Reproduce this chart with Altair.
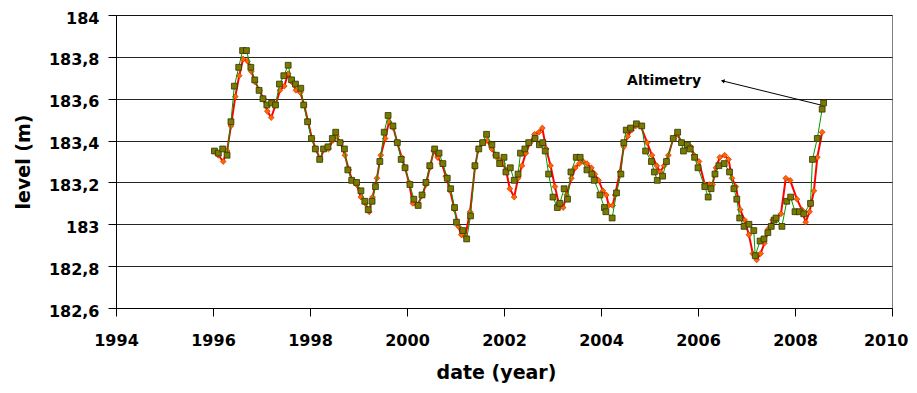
import altair as alt
import pandas as pd

# Altimetry series (green line, olive squares)
green_year = [1996.03, 1996.11, 1996.20, 1996.29, 1996.37, 1996.44, 1996.53, 1996.61, 1996.69, 1996.78,
              1996.86, 1996.95, 1997.03, 1997.11, 1997.21, 1997.29, 1997.37, 1997.46, 1997.55, 1997.62,
              1997.70, 1997.81, 1997.87, 1997.95, 1998.03, 1998.11, 1998.20, 1998.28, 1998.37, 1998.46,
              1998.53, 1998.62, 1998.71, 1998.78, 1998.86, 1998.96, 1999.05, 1999.13, 1999.20, 1999.28,
              1999.35, 1999.44, 1999.53, 1999.61, 1999.71, 1999.80, 1999.88, 1999.96, 2000.06, 2000.14,
              2000.23, 2000.31, 2000.39, 2000.47, 2000.57, 2000.66, 2000.74, 2000.83, 2000.90, 2000.98,
              2001.02, 2001.15, 2001.23, 2001.31, 2001.40, 2001.48, 2001.56, 2001.64, 2001.75, 2001.84,
              2001.91, 2002.00, 2002.04, 2002.13, 2002.21, 2002.29, 2002.34, 2002.43, 2002.51, 2002.64,
              2002.73, 2002.80, 2002.85, 2002.92, 2003.01, 2003.10, 2003.15, 2003.24, 2003.31, 2003.38,
              2003.49, 2003.57, 2003.71, 2003.81, 2003.86, 2003.98, 2004.07, 2004.10, 2004.23, 2004.32,
              2004.41, 2004.47, 2004.52, 2004.61, 2004.73, 2004.84, 2004.92, 2005.04, 2005.10, 2005.16,
              2005.27, 2005.35, 2005.49, 2005.58, 2005.66, 2005.70, 2005.78, 2005.84, 2005.93, 2006.00,
              2006.14, 2006.21, 2006.27, 2006.35, 2006.43, 2006.54, 2006.65, 2006.74, 2006.80, 2006.86,
              2006.95, 2007.05, 2007.15, 2007.18, 2007.28, 2007.36, 2007.44, 2007.51, 2007.57, 2007.61,
              2007.73, 2007.83, 2007.91, 2008.00, 2008.09, 2008.18, 2008.32, 2008.36, 2008.46, 2008.56,
              2008.59]
green_level = [183.35, 183.34, 183.36, 183.33, 183.49, 183.66, 183.75, 183.83, 183.83, 183.75,
               183.69, 183.64, 183.60, 183.57, 183.58, 183.57, 183.67, 183.71, 183.76, 183.69,
               183.67, 183.65, 183.57, 183.49, 183.41, 183.36, 183.31, 183.36, 183.37, 183.41,
               183.44, 183.39, 183.36, 183.26, 183.21, 183.20, 183.16, 183.11, 183.07, 183.11,
               183.18, 183.30, 183.44, 183.52, 183.47, 183.39, 183.31, 183.27, 183.19, 183.12,
               183.09, 183.14, 183.20, 183.28, 183.36, 183.34, 183.29, 183.22, 183.17, 183.08,
               183.01, 182.97, 182.93, 183.04, 183.28, 183.36, 183.39, 183.43, 183.38, 183.33,
               183.29, 183.32, 183.25, 183.27, 183.21, 183.24, 183.34, 183.36, 183.39, 183.41,
               183.38, 183.39, 183.35, 183.24, 183.13, 183.08, 183.10, 183.17, 183.12, 183.25,
               183.32, 183.32, 183.26, 183.24, 183.21, 183.14, 183.08, 183.06, 183.03, 183.15,
               183.24, 183.39, 183.45, 183.46, 183.48, 183.47, 183.35, 183.30, 183.25, 183.21,
               183.23, 183.30, 183.41, 183.44, 183.39, 183.35, 183.38, 183.36, 183.32, 183.27,
               183.18, 183.13, 183.17, 183.24, 183.28, 183.29, 183.25, 183.17, 183.12, 183.03,
               182.99, 183.00, 182.97, 182.85, 182.92, 182.93, 182.96, 182.99, 183.02, 183.03,
               182.99, 183.11, 183.13, 183.06, 183.06, 183.05, 183.10, 183.31, 183.41, 183.55,
               183.58]

# Gauge series (red line, orange diamonds)
red_year = [1996.03, 1996.11, 1996.21, 1996.29, 1996.37, 1996.46, 1996.54, 1996.62, 1996.71, 1996.79,
            1996.87, 1996.96, 1997.04, 1997.12, 1997.20, 1997.29, 1997.38, 1997.47, 1997.55, 1997.63,
            1997.71, 1997.80, 1997.88, 1997.96, 1998.04, 1998.12, 1998.21, 1998.29, 1998.38, 1998.47,
            1998.55, 1998.63, 1998.72, 1998.80, 1998.87, 1998.96, 1999.05, 1999.14, 1999.22, 1999.29,
            1999.38, 1999.46, 1999.55, 1999.63, 1999.72, 1999.80, 1999.89, 1999.96, 2000.04, 2000.12,
            2000.21, 2000.32, 2000.39, 2000.47, 2000.55, 2000.63, 2000.72, 2000.80, 2000.89, 2000.98,
            2001.06, 2001.12, 2001.20, 2001.30, 2001.40, 2001.47, 2001.56, 2001.65, 2001.75, 2001.82,
            2001.89, 2001.97, 2002.04, 2002.12, 2002.21, 2002.29, 2002.37, 2002.45, 2002.54, 2002.63,
            2002.72, 2002.79, 2002.87, 2002.96, 2003.05, 2003.13, 2003.22, 2003.29, 2003.39, 2003.47,
            2003.55, 2003.63, 2003.71, 2003.80, 2003.87, 2003.95, 2004.04, 2004.11, 2004.16, 2004.24,
            2004.29, 2004.39, 2004.47, 2004.55, 2004.63, 2004.72, 2004.82, 2004.95, 2005.05, 2005.15,
            2005.22, 2005.30, 2005.39, 2005.49, 2005.57, 2005.67, 2005.77, 2005.85, 2005.92, 2006.02,
            2006.14, 2006.23, 2006.30, 2006.37, 2006.45, 2006.55, 2006.63, 2006.70, 2006.78, 2006.87,
            2006.96, 2007.05, 2007.13, 2007.21, 2007.29, 2007.37, 2007.46, 2007.54, 2007.62, 2007.71,
            2007.81, 2007.90, 2008.04, 2008.14, 2008.22, 2008.30, 2008.39, 2008.46, 2008.56]
red_level = [183.35, 183.33, 183.30, 183.35, 183.47, 183.61, 183.71, 183.79, 183.78, 183.73,
             183.68, 183.64, 183.60, 183.54, 183.51, 183.57, 183.64, 183.66, 183.72, 183.68,
             183.64, 183.63, 183.57, 183.49, 183.41, 183.36, 183.31, 183.36, 183.36, 183.40,
             183.42, 183.39, 183.33, 183.26, 183.21, 183.19, 183.13, 183.10, 183.06, 183.13,
             183.22, 183.33, 183.41, 183.49, 183.46, 183.39, 183.32, 183.27, 183.20, 183.10,
             183.09, 183.14, 183.19, 183.27, 183.35, 183.32, 183.29, 183.23, 183.16, 183.07,
             182.99, 182.95, 182.94, 183.06, 183.27, 183.36, 183.39, 183.40, 183.36, 183.33,
             183.31, 183.29, 183.26, 183.17, 183.13, 183.22, 183.28, 183.34, 183.39, 183.43,
             183.44, 183.46, 183.36, 183.28, 183.18, 183.10, 183.08, 183.14, 183.22, 183.27,
             183.29, 183.30, 183.29, 183.27, 183.24, 183.21, 183.16, 183.14, 183.09, 183.09,
             183.14, 183.25, 183.37, 183.42, 183.45, 183.47, 183.47, 183.39, 183.33, 183.28,
             183.25, 183.28, 183.33, 183.41, 183.43, 183.39, 183.38, 183.37, 183.33, 183.30,
             183.19, 183.19, 183.19, 183.27, 183.32, 183.33, 183.31, 183.22, 183.18, 183.07,
             183.02, 182.95, 182.86, 182.83, 182.86, 182.91, 182.98, 183.02, 183.03, 183.05,
             183.22, 183.21, 183.12, 183.07, 183.01, 183.06, 183.16, 183.32, 183.44]

x_ticks = [1994, 1996, 1998, 2000, 2002, 2004, 2006, 2008, 2010]
y_ticks = [182.6, 182.8, 183.0, 183.2, 183.4, 183.6, 183.8, 184.0]
x_title = "date (year)"
y_title = "level (m)"

note_text = ["Altimetry"]
note_year = [2005.30]
note_level = [183.685]
arrow_from_year = [2008.53]
arrow_from_level = [183.57]
arrow_to_year = [2006.51]
arrow_to_level = [183.685]

FONT = "DejaVu Sans"

green = pd.DataFrame({"year": green_year, "level": green_level})
red = pd.DataFrame({"year": red_year, "level": red_level})
note = pd.DataFrame({"year": note_year, "level": note_level, "text": note_text})
arrow = pd.DataFrame({"year": arrow_from_year, "level": arrow_from_level,
                      "year2": arrow_to_year, "level2": arrow_to_level})
head = pd.DataFrame({"year": arrow_to_year, "level": arrow_to_level})

xs = alt.Scale(domain=[1994, 2010], nice=False, zero=False)
ys = alt.Scale(domain=[182.6, 184], nice=False, zero=False)

label_expr = ("abs(datum.value - round(datum.value)) < 0.001 ? format(datum.value, 'd') : "
              "replace(format(datum.value, '.1f'), '.', ',')")

last_x = "datum.value == 2010"

x_axis = alt.Axis(values=x_ticks, format="d", title=x_title, grid=False,
                  domainColor="#000000", domainWidth=1, tickColor="#000000", tickSize=8, tickWidth=1,
                  labelFont=FONT, labelFontWeight="bold", labelFontSize=16, labelColor="#000000",
                  labelPadding=16, labelFlush=False, labelOverlap=False,
                  labelAlign={"condition": {"test": last_x, "value": "right"}, "value": "center"},
                  labelOffset={"condition": {"test": last_x, "value": 16}, "value": 0},
                  titleFont=FONT, titleFontWeight="bold", titleFontSize=19, titleColor="#000000",
                  titleX=380, titleY=64, titleAlign="center", titleBaseline="middle")
y_axis = alt.Axis(values=y_ticks, labelExpr=label_expr, title=y_title, grid=True,
                  gridColor="#000000", gridWidth=1, gridOpacity=0.85,
                  domainColor="#000000", domainWidth=1, tickColor="#000000", tickSize=8, tickWidth=1,
                  labelFont=FONT, labelFontWeight="bold", labelFontSize=16, labelColor="#000000",
                  labelPadding=9, labelFlush=False, labelOffset=3, labelOverlap=False,
                  titleFont=FONT, titleFontWeight="bold", titleFontSize=19, titleColor="#000000",
                  titleX=-93, titleY=146.5, titleAngle=270, titleAlign="center", titleBaseline="middle")

X = alt.X("year:Q", scale=xs, axis=x_axis)
Y = alt.Y("level:Q", scale=ys, axis=y_axis)

red_line = alt.Chart(red).mark_line(color="#FF0000", strokeWidth=2).encode(x=X, y=Y)
red_pts = alt.Chart(red).mark_point(shape="diamond", filled=True, fill="#FF6600", stroke="#D03000",
                                    strokeWidth=0.7, size=34, opacity=1).encode(x=X, y=Y)
green_line = alt.Chart(green).mark_line(color="#009900", strokeWidth=1).encode(x=X, y=Y)
green_pts = alt.Chart(green).mark_point(shape="square", filled=True, fill="#7A7A00", stroke="#333300",
                                        strokeWidth=0.8, size=34, opacity=1).encode(x=X, y=Y)
arrow_rule = alt.Chart(arrow).mark_rule(color="#000000", strokeWidth=1).encode(
    x=X, y=Y, x2="year2:Q", y2="level2:Q")
arrow_head = alt.Chart(head).mark_point(shape="triangle-left", filled=True, color="#000000",
                                        size=18, angle=14, opacity=1).encode(x=X, y=Y)
note_label = alt.Chart(note).mark_text(font=FONT, fontWeight="bold", fontSize=14, color="#000000",
                                       align="center", baseline="middle").encode(x=X, y=Y, text="text:N")

chart = alt.layer(red_line, red_pts, green_line, green_pts, arrow_rule, arrow_head, note_label).properties(
    width=776, height=293,
    padding={"left": 108, "top": 7, "right": 17, "bottom": 77},
    autosize=alt.AutoSizeParams(type="none"),
    background="#FFFFFF",
).configure_view(stroke="#808080", strokeWidth=1)

chart.save("out.html", embed_options={"renderer": "svg", "actions": False})
